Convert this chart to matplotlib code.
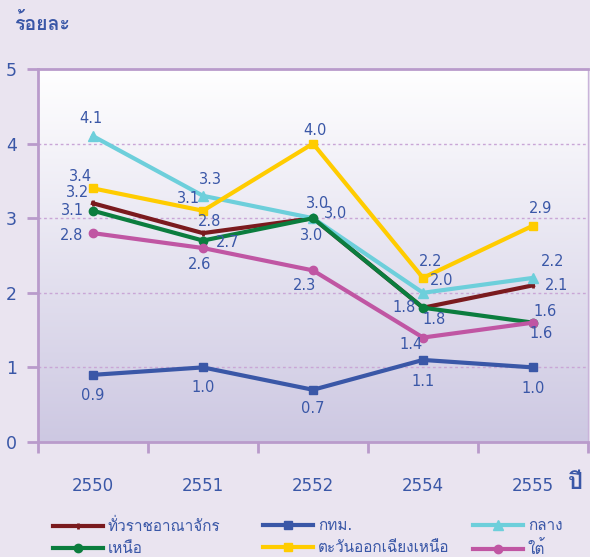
import numpy as np
import matplotlib
matplotlib.use('Agg')
from matplotlib import pyplot as plt
from matplotlib import font_manager
from matplotlib.ft2font import FT2Font
from matplotlib.colors import LinearSegmentedColormap

years = ['2550', '2551', '2552', '2554', '2555']
regions = ['ทั่วราชอาณาจักร', 'กทม.', 'กลาง', 'เหนือ', 'ตะวันออกเฉียงเหนือ', 'ใต้']
whole_kingdom = [3.2, 2.8, 3.0, 1.8, 2.1]
bangkok = [0.9, 1.0, 0.7, 1.1, 1.0]
central = [4.1, 3.3, 3.0, 2.0, 2.2]
north = [3.1, 2.7, 3.0, 1.8, 1.6]
northeast = [3.4, 3.1, 4.0, 2.2, 2.9]
south = [2.8, 2.6, 2.3, 1.4, 1.6]

# colour, marker, marker size
styles = [
    ('#7A1A1E', '|', 5),
    ('#3A57A7', 's', 6),
    ('#6DCFDB', '^', 7),
    ('#0B7D3E', 'o', 6),
    ('#FFCC00', 's', 6),
    ('#C056A3', 'o', 6),
]

# label offsets in pixels (dx, dy with y pointing down)
label_offsets = [
    [(-15, -11), (7, -12), (-1, 17), (-19, 0), (24, 0)],
    [(0, 21), (0, 20), (0, 19), (0, 22), (0, 21)],
    [(-2, -18), (7, -16), (23, -5), (19, -12), (20, -16)],
    [(-20, 0), (25, 2), (5, -15), (11, 12), (12, -11)],
    [(-12, -12), (-14, -12), (2, -13), (8, -16), (8, -17)],
    [(-21, 2), (-3, 16), (-9, 15), (-12, 7), (8, 11)],
]

TEXT = '#3A57A7'
AXIS = '#B99BCB'


def thai_family():
    for f in font_manager.fontManager.ttflist:
        try:
            if FT2Font(f.fname).get_char_index(0x0E01):
                return f.name
        except Exception:
            pass
    return 'DejaVu Sans'


plt.rcParams['font.family'] = ['DejaVu Sans', thai_family()]

series = [whole_kingdom, bangkok, central, north, northeast, south]
x = np.arange(len(years))

fig = plt.figure(figsize=(5.9, 5.57), dpi=100, facecolor='#EAE4F0')
ax = fig.add_axes([38 / 590, 1 - 442 / 557, 550 / 590, 373 / 557])

grad = np.linspace(0, 1, 256).reshape(-1, 1)
cmap = LinearSegmentedColormap.from_list('bg', ['#FFFFFF', '#CDC8E2'])
ax.imshow(grad, extent=[0, 1, 0, 1], transform=ax.transAxes, cmap=cmap,
          aspect='auto', zorder=0)

for yv in [1, 2, 3, 4]:
    ax.axhline(yv, color='#C9A6D6', lw=1, ls=(0, (2, 2)), zorder=1)

handles = []
for vals, (col, mk, ms), offs in zip(series, styles, label_offsets):
    ln, = ax.plot(x, vals, color=col, lw=3, marker=mk, ms=ms, mew=2 if mk == '|' else 1,
                  zorder=3)
    handles.append(ln)
    for xi, v, (dx, dy) in zip(x, vals, offs):
        ax.annotate(f'{v:.1f}', (xi, v), xytext=(dx, -dy), textcoords='offset pixels',
                    ha='center', va='center', color=TEXT, fontsize=10.5, zorder=4)

ax.set_xlim(-0.5, 4.5)
ax.set_ylim(0, 5)
ax.set_yticks([0, 1, 2, 3, 4, 5])
ax.set_xticks(np.arange(-0.5, 5, 1))
ax.set_xticklabels([])
ax.set_xticks(x, minor=True)
ax.set_xticklabels(years, minor=True)
ax.tick_params(axis='x', which='major', length=8, width=2, color=AXIS)
ax.tick_params(axis='x', which='minor', length=0, pad=25, labelsize=12, labelcolor=TEXT)
ax.tick_params(axis='y', length=8, width=2, color=AXIS, pad=7, labelsize=12.5, labelcolor=TEXT)

for side in ['left', 'bottom', 'top']:
    ax.spines[side].set_color(AXIS)
    ax.spines[side].set_linewidth(2)
ax.spines['right'].set_color('#C9B4DA')
ax.spines['right'].set_linewidth(1)

fig.text(14 / 590, 1 - 24 / 557, 'ร้อยละ', color=TEXT, fontsize=14, fontweight='bold',
         ha='left', va='center')
fig.text(568 / 590, 1 - 482 / 557, 'ปี', color=TEXT, fontsize=17, fontweight='bold',
         ha='left', va='center')

# legend laid out as three columns, row-major order like the original
col_x = [53, 263, 473]
for c in range(3):
    idx = [c, c + 3]
    fig.legend([handles[i] for i in idx], [regions[i] for i in idx],
               loc='upper left', bbox_to_anchor=(col_x[c] / 590, 1 - 518 / 557),
               frameon=False, ncol=1, handlelength=3.3, handletextpad=0.3,
               labelspacing=0.45, borderaxespad=0, borderpad=0,
               fontsize=11, labelcolor=TEXT)

fig.savefig('out.png', dpi=100, facecolor=fig.get_facecolor())
